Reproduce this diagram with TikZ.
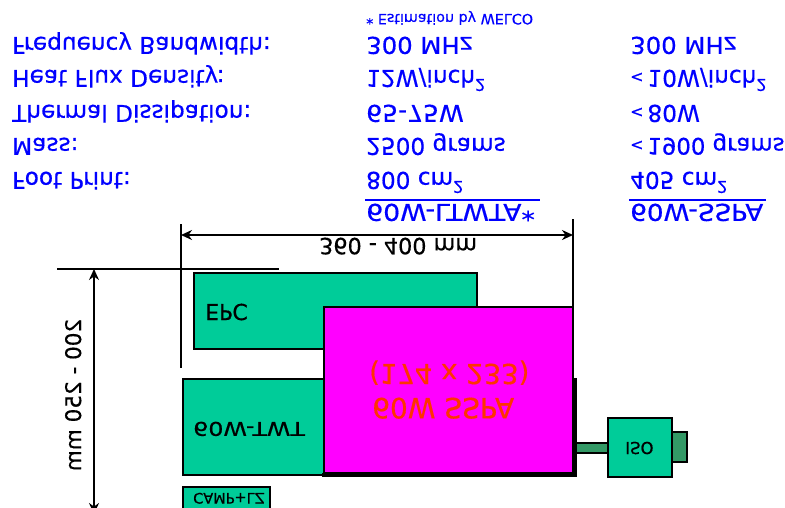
\documentclass[tikz,border=0pt]{standalone}
\usepackage{fontspec}
\setmainfont[FakeBold=0.5]{DejaVu Sans}
\usepackage{tikz}
\usetikzlibrary{arrows.meta,positioning}
\newcommand{\lessmark}{\raisebox{2pt}{\fontsize{16}{16}\selectfont<}}

\begin{document}
\begin{tikzpicture}[
    x=1pt, y=1pt, yscale=-1,
    every node/.style={transform shape},
    row/.style={anchor=base west, inner sep=0pt, text=blue, font=\fontsize{23.2}{26}\selectfont},
    unit/.style={draw=black, line width=1.5pt, fill=unitgreen, inner sep=0pt},
    lbl/.style={anchor=base west, inner sep=0pt, text=black},
    dimline/.style={{Stealth[length=11pt,width=10pt]}-{Stealth[length=11pt,width=10pt]}, line width=1.8pt},
    tick/.style={line width=1.8pt}
  ]
    \definecolor{unitgreen}{HTML}{00CC99}
    \definecolor{feedgreen}{HTML}{339966}
    \definecolor{ampred}{HTML}{FF3300}
    \definecolor{ampbody}{HTML}{FF00FF}
    \clip (0,0) rectangle (785,507);
    % table
    \node[row] (freq) at (12,37) {Frequency Bandwidth:};
    \node[row] (heat) at (12,70) {Heat Flux Density:};
    \node[row] (therm) at (12,105) {Thermal Dissipation:};
    \node[row] (mass) at (12,138) {Mass:};
    \node[row] (foot) at (12,172) {Foot Print:};
    \node[row, font=\fontsize{14.3}{16}\selectfont] (note) at (366,14) {* Estimation by WELCO};
    \node[row, xscale=1.05] (tfreq) at (366,37) {300 MHz};
    \node[row] (theat) at (366,70) {12W/inch\textsuperscript{2}};
    \node[row, xscale=1.08] (ttherm) at (366,105) {65-75W};
    \node[row] (tmass) at (366,138) {2500 grams};
    \node[row] (tfoot) at (366,172) {800 cm\textsuperscript{2}};
    \node[row, xscale=1.15] (thead) at (366,204) {60W-LTWTA*};
    \node[row, xscale=1.05] (sfreq) at (630,37) {300 MHz};
    \node[row] (sheat) at (630,70) {\lessmark\,10W/inch\textsuperscript{2}};
    \node[row] (stherm) at (630,105) {\lessmark\,80W};
    \node[row, font=\fontsize{22.8}{26}\selectfont] (smass) at (630,138) {\lessmark\,1900 grams};
    \node[row] (sfoot) at (630,172) {405 cm\textsuperscript{2}};
    \node[row, xscale=1.13] (shead) at (630,204) {60W-SSPA};
    \draw[blue, line width=1.5pt] (365,200) -- (540,200);
    \draw[blue, line width=1.5pt] (629,200) -- (766,200);
    % dimensions
    \coordinate (wleft) at (181,235);
    \coordinate (wright) at (573,235);
    \coordinate (htop) at (94,269);
    \coordinate (hbot) at (94,514);
    \draw[tick] (181,224) -- (181,368);
    \draw[tick] (573,219) -- (573,370);
    \draw[tick] (57,269) -- (279,269);
    \draw[dimline] (wleft) -- (wright);
    \draw[dimline] (htop) -- (hbot);
    \node[lbl, font=\fontsize{22.3}{24}\selectfont] (wlabel) at (319,238) {360 - 400 mm};
    \node[lbl, rotate=90, anchor=base, font=\fontsize{21.5}{24}\selectfont] (hlabel) at (81,395) {200 - 250 mm};
    % units
    \node[unit, minimum width=283pt, minimum height=76pt] (epc) at (335.5,311) {};
    \node[unit, minimum width=160pt, minimum height=96pt] (twt) at (263,427) {};
    \node[unit, minimum width=87pt, minimum height=26pt] (camp) at (226.5,500) {};
    \node[unit, fill=feedgreen, minimum width=15pt, minimum height=30pt] (load) at (679.5,447) {};
    \node[unit, fill=feedgreen, minimum width=34pt, minimum height=10pt] (feed) at (591,448) {};
    \node[unit, minimum width=64pt, minimum height=59pt] (iso) at (640,447.5) {};
    \node[unit, fill=ampbody, line width=2pt, minimum width=249pt, minimum height=166pt] (sspa) at (448,390) {};
    \draw[line width=4pt] (574.5,378) -- (574.5,475) -- (322,475);
    \node[lbl, font=\fontsize{22}{24}\selectfont] at (205,304) {EPC};
    \node[lbl, xscale=1.25, font=\fontsize{19}{20}\selectfont] at (193,422) {60W-TWT};
    \node[lbl, font=\fontsize{14.5}{16}\selectfont] at (193,493) {CAMP+LZ};
    \node[lbl, font=\fontsize{16.5}{18}\selectfont] at (625,442) {ISO};
    \node[lbl, text=ampred, font=\fontsize{27.5}{30}\selectfont] at (369,364) {(174 x 233)};
    \node[lbl, text=ampred, font=\fontsize{28}{30}\selectfont] at (372,398) {60W SSPA};
  \end{tikzpicture}
\end{document}
